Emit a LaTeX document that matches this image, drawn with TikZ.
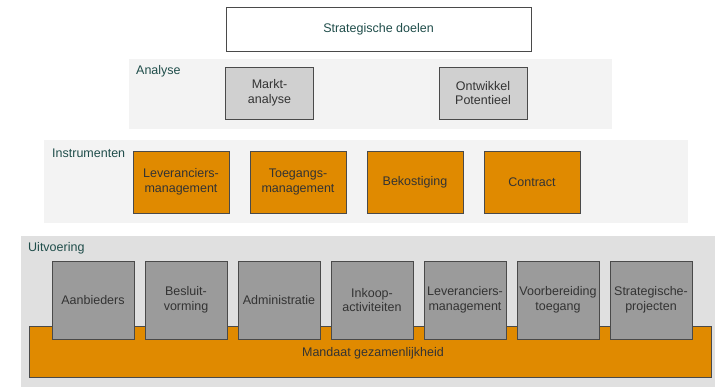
\documentclass[tikz,border=0pt]{standalone}
\usepackage{fontspec}
\setmainfont{Liberation Sans}
\definecolor{paneltop}{HTML}{F3F3F3}
\definecolor{panelbottom}{HTML}{E0E0E0}
\definecolor{boxorange}{HTML}{E08A00}
\definecolor{boxgray}{HTML}{9B9B9B}
\definecolor{boxlight}{HTML}{D0D0D0}
\definecolor{boxline}{HTML}{4A4A4A}
\definecolor{boxtext}{HTML}{333333}
\definecolor{labeltext}{HTML}{1F4D4A}
\tikzset{
  box/.style={draw=boxline, line width=0.9pt, align=center, inner sep=0pt,
    text=boxtext, font=\fontsize{12.5}{14.5}\selectfont},
  goalbox/.style={box, fill=white, text=labeltext, minimum width=305, minimum height=44},
  analysebox/.style={box, fill=boxlight, minimum width=88, minimum height=52},
  instrbox/.style={box, fill=boxorange, minimum width=96, minimum height=62},
  taskbox/.style={box, fill=boxgray, minimum width=82, minimum height=78},
  panellabel/.style={anchor=west, inner sep=0pt, text=labeltext,
    font=\fontsize{12.5}{14.5}\selectfont}
}
\begin{document}
\begin{tikzpicture}[x=1pt,y=-1pt]
\useasboundingbox (0,0) rectangle (715,387);
% panels
\fill[paneltop] (129,59) rectangle (612,129);
\fill[paneltop] (44,140) rectangle (688,223);
\fill[panelbottom] (21,236) rectangle (715,387);
\node[panellabel] (lblanalyse) at (136,71) {Analyse};
\node[panellabel] (lblinstr) at (52,153) {Instrumenten};
\node[panellabel] (lbluitv) at (28,248) {Uitvoering};
% doelen
\node[goalbox] (doelen) at (378.5,29.5) {Strategische doelen};
% analyse
\node[analysebox] (markt) at (269.5,93) {Markt-\\analyse};
\node[analysebox] (ontwikkel) at (483,93) {Ontwikkel\\Potentieel};
% instrumenten
\node[instrbox] (instr1) at (181,182) {Leveranciers-\\management};
\node[instrbox] (instr2) at (298,182) {Toegangs-\\management};
\node[instrbox] (instr3) at (415,182) {Bekostiging};
\node[instrbox] (instr4) at (532,182) {Contract};
% uitvoering
\draw[draw=boxline, line width=0.9pt, fill=boxorange] (29,326) rectangle (711,377);
\node[text=boxtext, font=\fontsize{12.5}{14.5}\selectfont] (mandaat) at (373,353) {Mandaat gezamenlijkheid};
\foreach \i/\txt in {0/Aanbieders, 1/Besluit-\\vorming, 2/Administratie,
    3/Inkoop-\\activiteiten, 4/Leveranciers-\\management,
    5/Voorbereiding\\toegang, 6/Strategische-\\projecten}
  \node[taskbox] (task\i) at ({93+93*\i},300) {\txt};
\end{tikzpicture}
\end{document}
